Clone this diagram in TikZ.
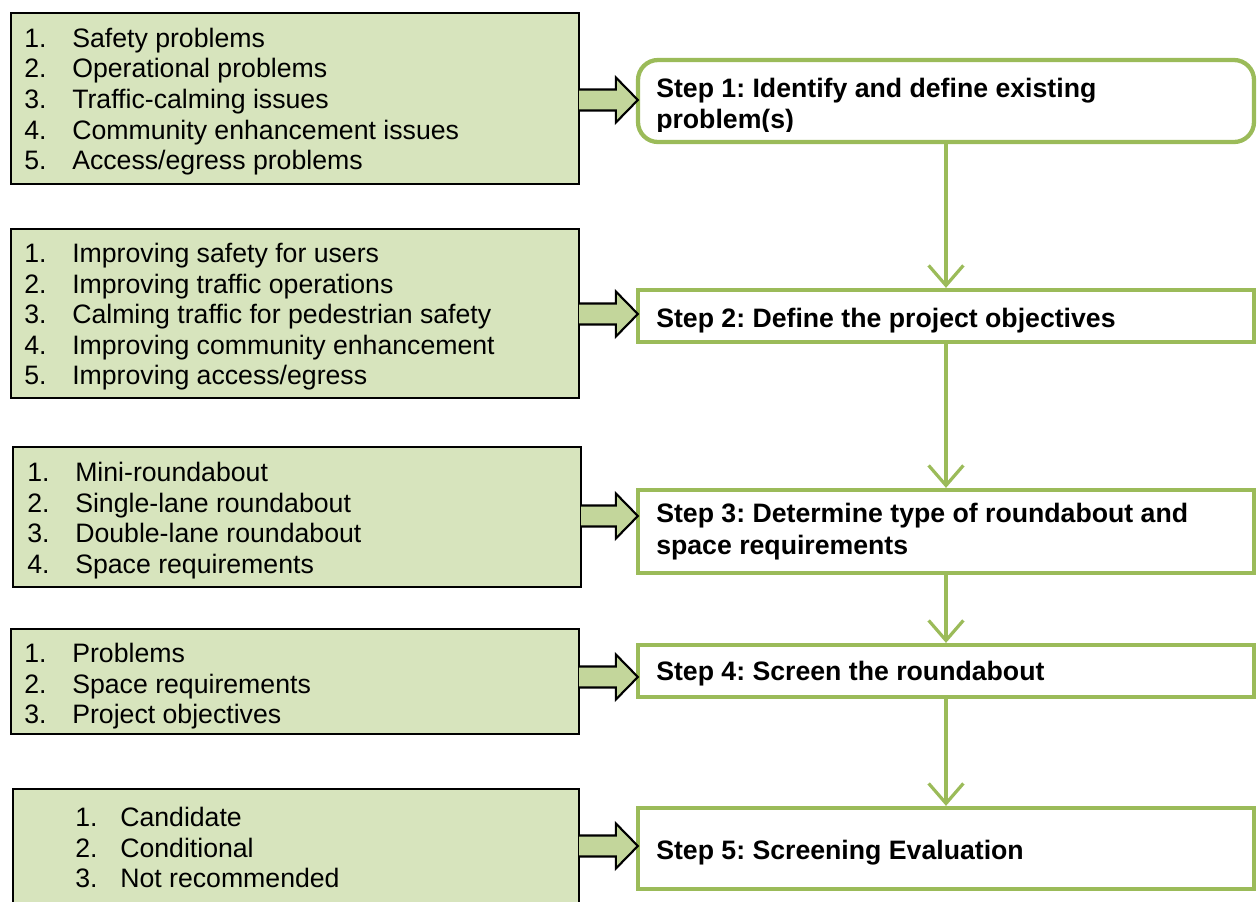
\documentclass[tikz,border=0pt]{standalone}
\usepackage{fontspec}
\setmainfont{Liberation Sans}
\frenchspacing
\usetikzlibrary{fit,calc,arrows.meta}
\definecolor{gline}{HTML}{9BBB59}
\definecolor{lfill}{HTML}{D7E4BD}
\definecolor{afill}{HTML}{C3D69B}
\tikzset{
  leftbox/.style={draw=black, line width=1.6pt, fill=lfill, inner sep=0pt},
  stepbox/.style={draw=gline, line width=3.2pt, fill=white, inner sep=0pt},
  itemtxt/.style={anchor=base west, inner sep=0pt, font=\fontsize{20}{23}\selectfont},
  steptxt/.style={anchor=base west, inner sep=0pt, font=\fontsize{20}{23}\selectfont\bfseries},
  blockarr/.style={draw=black, line width=1.6pt, fill=afill, line join=miter},
  varr/.style={draw=gline, line width=2.4pt, -{Straight Barb[length=15pt,width=26pt,line width=2.4pt]}},
}
\newcommand{\blockarrow}[3]{% box, step, y coordinate name
  \draw[blockarr] ($(#3 -| #1.east)+(-1,-10.5)$) -- ($(#3 -| #2.west)+(-20,-10.5)$)
    -- ($(#3 -| #2.west)+(-20,-22.5)$) -- ($(#3 -| #2.west)+(2,0)$)
    -- ($(#3 -| #2.west)+(-20,22.5)$) -- ($(#3 -| #2.west)+(-20,10.5)$)
    -- ($(#3 -| #1.east)+(-1,10.5)$);}
\begin{document}
\begin{tikzpicture}[x=0.75pt,y=-0.75pt]
\clip (0,0) rectangle (1258,901);
\fill[white] (0,0) rectangle (1258,901);

% left boxes
\node[leftbox, fit={(11,13) (579,184)}] (b1) {};
\node[leftbox, fit={(11,229) (579,398)}] (b2) {};
\node[leftbox, fit={(13,447) (581,587)}] (b3) {};
\node[leftbox, fit={(11,629) (579,734)}] (b4) {};
\node[leftbox, fit={(13,789) (579,915)}] (b5) {};

% step boxes
\node[stepbox, rounded corners=15, fit={(638,60) (1254,142)}] (s1) {};
\node[stepbox, fit={(638,290) (1254,342)}] (s2) {};
\node[stepbox, fit={(638,490) (1254,573)}] (s3) {};
\node[stepbox, fit={(638,645) (1254,697)}] (s4) {};
\node[stepbox, fit={(638,808) (1254,889)}] (s5) {};

% items box 1
\node[itemtxt] (b1n1) at (24,47) {1.};   \node[itemtxt] (b1t1) at (72,47) {Safety problems};
\node[itemtxt] (b1n2) at (24,77.7) {2.}; \node[itemtxt] (b1t2) at (72,77.7) {Operational problems};
\node[itemtxt] (b1n3) at (24,108.4) {3.};\node[itemtxt] (b1t3) at (72,108.4) {Traffic-calming issues};
\node[itemtxt] (b1n4) at (24,139.1) {4.};\node[itemtxt] (b1t4) at (72,139.1) {Community enhancement issues};
\node[itemtxt] (b1n5) at (24,169.8) {5.};\node[itemtxt] (b1t5) at (72,169.8) {Access/egress problems};

% items box 2
\node[itemtxt] (b2n1) at (24,262.5) {1.}; \node[itemtxt] (b2t1) at (72,262.5) {Improving safety for users};
\node[itemtxt] (b2n2) at (24,293) {2.};   \node[itemtxt] (b2t2) at (72,293) {Improving traffic operations};
\node[itemtxt] (b2n3) at (24,323.5) {3.}; \node[itemtxt] (b2t3) at (72,323.5) {Calming traffic for pedestrian safety};
\node[itemtxt] (b2n4) at (24,354) {4.};   \node[itemtxt] (b2t4) at (72,354) {Improving community enhancement};
\node[itemtxt] (b2n5) at (24,384.5) {5.}; \node[itemtxt] (b2t5) at (72,384.5) {Improving access/egress};

% items box 3
\node[itemtxt] (b3n1) at (27,481.5) {1.}; \node[itemtxt] (b3t1) at (75,481.5) {Mini-roundabout};
\node[itemtxt] (b3n2) at (27,512) {2.};   \node[itemtxt] (b3t2) at (75,512) {Single-lane roundabout};
\node[itemtxt] (b3n3) at (27,542.5) {3.}; \node[itemtxt] (b3t3) at (75,542.5) {Double-lane roundabout};
\node[itemtxt] (b3n4) at (27,573) {4.};   \node[itemtxt] (b3t4) at (75,573) {Space requirements};

% items box 4
\node[itemtxt] (b4n1) at (24,662.5) {1.}; \node[itemtxt] (b4t1) at (72,662.5) {Problems};
\node[itemtxt] (b4n2) at (24,693) {2.};   \node[itemtxt] (b4t2) at (72,693) {Space requirements};
\node[itemtxt] (b4n3) at (24,723.5) {3.}; \node[itemtxt] (b4t3) at (72,723.5) {Project objectives};

% items box 5
\node[itemtxt] (b5n1) at (75,826.5) {1.}; \node[itemtxt] (b5t1) at (120,826.5) {Candidate};
\node[itemtxt] (b5n2) at (75,857) {2.};   \node[itemtxt] (b5t2) at (120,857) {Conditional};
\node[itemtxt] (b5n3) at (75,887.5) {3.}; \node[itemtxt] (b5t3) at (120,887.5) {Not recommended};

% step texts
\node[steptxt] (s1t1) at (656,97.5) {Step 1: Identify and define existing};
\begin{scope}
\clip (640,100) rectangle (1250,131.5);
\node[steptxt] (s1t2) at (656,128) {problem(s)};
\end{scope}
\node[steptxt] (s2t) at (656,327.5) {Step 2: Define the project objectives};
\node[steptxt] (s3t1) at (656,522.5) {Step 3: Determine type of roundabout and};
\node[steptxt] (s3t2) at (656,554) {space requirements};
\node[steptxt] (s4t) at (656,680.5) {Step 4: Screen the roundabout};
\node[steptxt] (s5t) at (656,859.5) {Step 5: Screening Evaluation};

% block arrows
\coordinate (a1) at (0,100);
\coordinate (a2) at (0,314);
\coordinate (a3) at (0,516);
\coordinate (a4) at (0,677);
\coordinate (a5) at (0,846);
\blockarrow{b1}{s1}{a1}
\blockarrow{b2}{s2}{a2}
\blockarrow{b3}{s3}{a3}
\blockarrow{b4}{s4}{a4}
\blockarrow{b5}{s5}{a5}

% vertical arrows
\coordinate (vx) at (946,0);
\draw[varr] (s1.south -| vx) -- (s2.north -| vx);
\draw[varr] (s2.south -| vx) -- (s3.north -| vx);
\draw[varr] (s3.south -| vx) -- (s4.north -| vx);
\draw[varr] (s4.south -| vx) -- (s5.north -| vx);
\end{tikzpicture}
\end{document}
